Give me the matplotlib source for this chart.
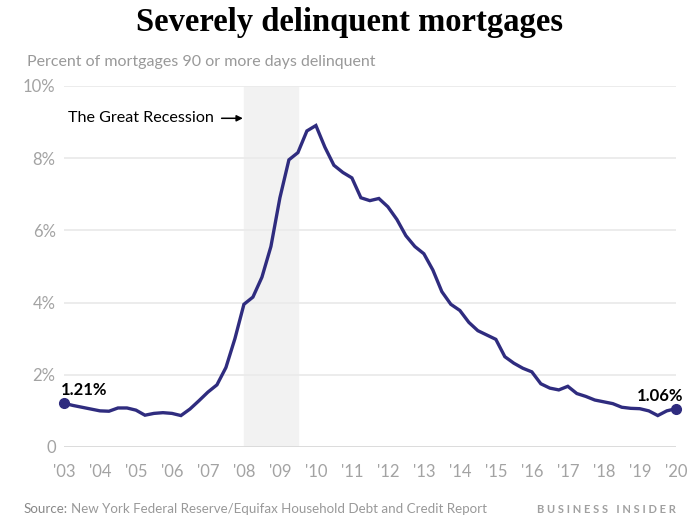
import matplotlib.pyplot as plt
import numpy as np

# quarterly data, 2003 Q1 .. 2020 Q1
start_year = 2003
pct = [1.21, 1.15, 1.10, 1.05, 1.00, 0.99, 1.08, 1.08,
       1.02, 0.88, 0.93, 0.95, 0.93, 0.87, 1.05, 1.28,
       1.52, 1.72, 2.20, 3.00, 3.95, 4.15, 4.70, 5.55,
       6.90, 7.95, 8.15, 8.75, 8.90, 8.30, 7.80, 7.60,
       7.45, 6.90, 6.82, 6.88, 6.65, 6.30, 5.85, 5.55,
       5.35, 4.90, 4.30, 3.95, 3.78, 3.45, 3.22, 3.10,
       2.98, 2.50, 2.32, 2.18, 2.08, 1.75, 1.63, 1.58,
       1.68, 1.48, 1.40, 1.30, 1.25, 1.20, 1.10, 1.07,
       1.06, 1.00, 0.87, 1.00, 1.06]
years = start_year + np.arange(len(pct)) / 4
xtick_labels = ["'%02d" % (y % 100) for y in range(2003, 2021)]
ytick_labels = ['0', '2%', '4%', '6%', '8%', '10%']
recession = (2008.0, 2009.5)

line_color = '#2f2c7f'
gray = '#a3a3a3'

fig = plt.figure(figsize=(7, 5.25), dpi=100)
ax = fig.add_axes([0.0914, 0.1486, 0.874, 0.688])

ax.axvspan(*recession, color='#f2f2f2', zorder=0)
for v in range(0, 11, 2):
    ax.axhline(v, color='#d9d9d9' if v == 0 else '#ebebeb', lw=1.3, zorder=1)

ax.plot(years, pct, color=line_color, lw=2.4, zorder=3, solid_joinstyle='miter')
ax.plot([years[0], years[-1]], [pct[0], pct[-1]], 'o', color=line_color, ms=7,
        zorder=4, clip_on=False)

ax.text(years[0] - 0.1, pct[0] + 0.14, '1.21%', fontsize=12, fontweight='bold',
        family='Lato', ha='left', va='bottom')
ax.text(years[-1] + 0.2, pct[-1] + 0.14, '1.06%', fontsize=12, fontweight='bold',
        family='Lato', ha='right', va='bottom')

ax.annotate('', xy=(2007.97, 9.1), xytext=(2007.38, 9.1),
            arrowprops=dict(arrowstyle='-|>', color='black', lw=1.1, mutation_scale=9,
                            shrinkA=0, shrinkB=0))
ax.text(2003.1, 9.1, 'The Great Recession', fontsize=11.6, family='Lato',
        ha='left', va='center')

ax.set_xlim(2003, 2020)
ax.set_ylim(0, 10)
ax.set_xticks(range(2003, 2021))
ax.set_xticklabels(xtick_labels)
ax.set_yticks(range(0, 11, 2))
ax.set_yticklabels(ytick_labels)
ax.tick_params(length=0, labelsize=12, labelcolor=gray)
ax.tick_params(axis='y', pad=6)
ax.tick_params(axis='x', pad=12)
for lab in ax.get_xticklabels() + ax.get_yticklabels():
    lab.set_family('Lato')
for s in ax.spines.values():
    s.set_visible(False)

fig.text(0.5, 0.958, 'Severely delinquent mortgages', fontsize=23.5, fontweight='bold',
         family='Liberation Serif', ha='center', va='center')
fig.text(0.039, 0.882, 'Percent of mortgages 90 or more days delinquent', fontsize=11.5,
         color='#999999', family='Lato', ha='left', va='center')
fig.text(0.034, 0.03, 'Source:', fontsize=9.6, color='#888888', family='Lato',
         ha='left', va='center')
fig.text(0.101, 0.03, 'New York Federal Reserve/Equifax Household Debt and Credit Report',
         fontsize=9.6, color='#999999', family='Lato', ha='left', va='center')
fig.text(0.965, 0.03, 'B U S I N E S S   I N S I D E R', fontsize=8, color='#a0a0a0',
         family='Lato', fontweight='bold', ha='right', va='center')

fig.savefig('out.png', dpi=100)
